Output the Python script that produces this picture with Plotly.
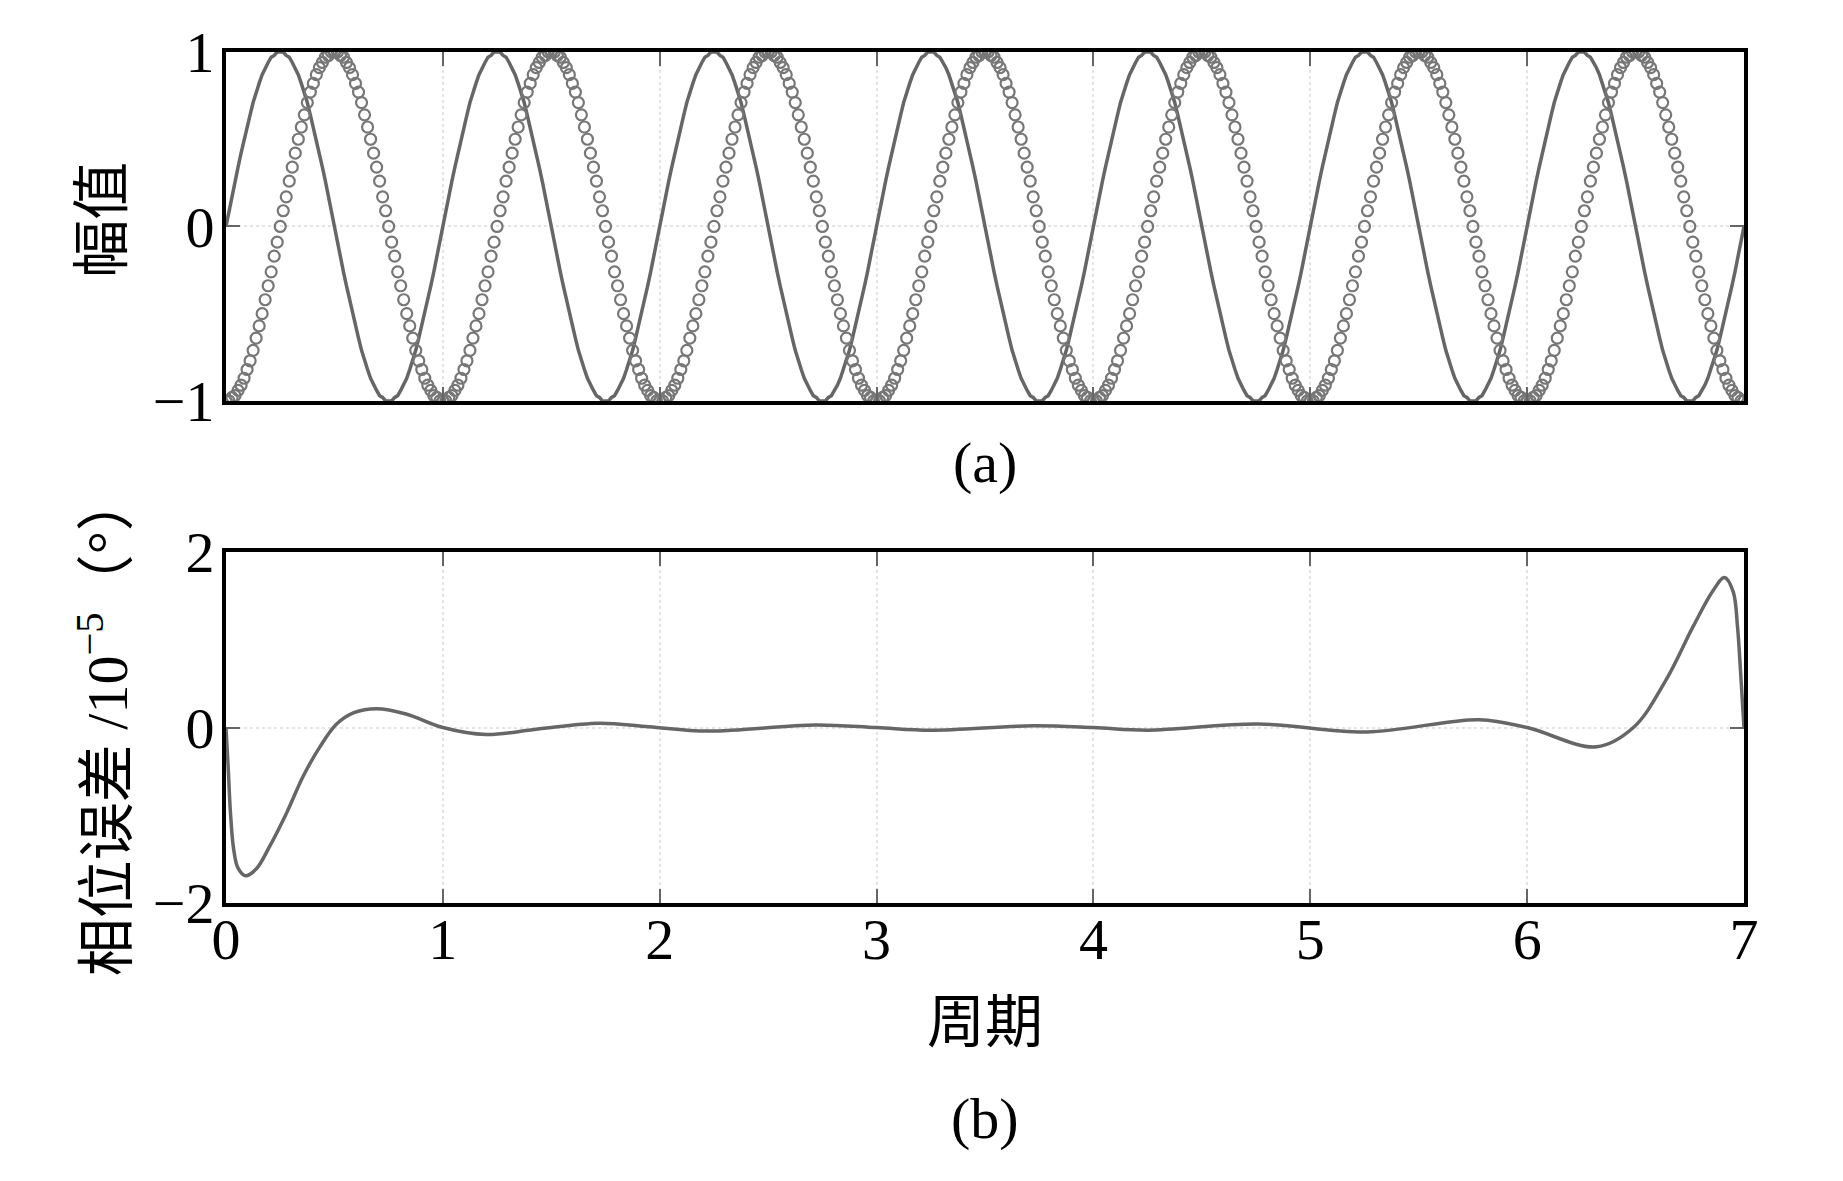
import numpy as np
import plotly.graph_objects as go
from plotly.subplots import make_subplots

# one period of the circle-marker signal (72 samples per period)
circle_period = [-1.00, -1.00, -0.98, -0.97, -0.94, -0.91, -0.87, -0.82, -0.77, -0.71, -0.64, -0.57,
                 -0.50, -0.42, -0.34, -0.26, -0.17, -0.09, 0.00, 0.09, 0.17, 0.26, 0.34, 0.42,
                 0.50, 0.57, 0.64, 0.71, 0.77, 0.82, 0.87, 0.91, 0.94, 0.97, 0.98, 1.00,
                 1.00, 1.00, 0.98, 0.97, 0.94, 0.91, 0.87, 0.82, 0.77, 0.71, 0.64, 0.57,
                 0.50, 0.42, 0.34, 0.26, 0.17, 0.09, 0.00, -0.09, -0.17, -0.26, -0.34, -0.42,
                 -0.50, -0.57, -0.64, -0.71, -0.77, -0.82, -0.87, -0.91, -0.94, -0.97, -0.98, -1.00]
n_periods = 7
samples_per_period = 72
# the solid curve leads the circles by a quarter period
quarter_shift = 18

# phase error, panel (b)
err_t = [0.0, 0.01, 0.02, 0.035, 0.055, 0.09, 0.14, 0.2, 0.28, 0.357, 0.433, 0.51, 0.59, 0.695,
         0.83, 1.0, 1.2, 1.43, 1.72, 1.95, 2.22, 2.72, 3.0, 3.25, 3.72, 4.0, 4.25, 4.76, 5.26,
         5.78, 6.0, 6.32, 6.49, 6.64, 6.765, 6.857, 6.91, 6.95, 6.97, 6.985, 7.0]
err_v = [0.0, -0.45, -0.95, -1.38, -1.6, -1.69, -1.61, -1.36, -0.97, -0.55, -0.22, 0.04, 0.17, 0.215,
         0.155, 0.0, -0.08, -0.02, 0.05, 0.01, -0.04, 0.03, 0.0, -0.03, 0.02, 0.0, -0.03, 0.04, -0.05,
         0.09, 0.0, -0.22, 0.0, 0.54, 1.15, 1.56, 1.71, 1.55, 1.15, 0.6, 0.0]

x_ticks = [0, 1, 2, 3, 4, 5, 6, 7]
x_ticktext = ["0", "1", "2", "3", "4", "5", "6", "7"]
amp_ticks = [-1, 0, 1]
amp_ticktext = ["\u22121", "0", "1"]
err_ticks = [-2, 0, 2]
err_ticktext = ["\u22122", "0", "2"]

circ = np.append(np.tile(circle_period, n_periods), circle_period[0])
solid_period = np.roll(circle_period, -quarter_shift)
solid = np.append(np.tile(solid_period, n_periods), solid_period[0])
t = np.arange(len(circ)) / samples_per_period

FONT = "Liberation Serif, Times New Roman, Noto Sans CJK SC, serif"
FS = 58

fig = make_subplots(rows=2, cols=1)
fig.add_trace(go.Scatter(x=t, y=solid, mode="lines",
                         line=dict(color="#666666", width=3.5)), row=1, col=1)
fig.add_trace(go.Scatter(x=t, y=circ, mode="markers",
                         marker=dict(symbol="circle-open", size=11, color="#777777",
                                     line=dict(width=2.2, color="#777777"))), row=1, col=1)
fig.add_trace(go.Scatter(x=err_t, y=err_v, mode="lines", line_shape="spline",
                         line=dict(color="#666666", width=3.5)), row=2, col=1)

axis_common = dict(showline=True, linecolor="black", linewidth=4, mirror="ticks",
                   ticks="inside", ticklen=14, tickwidth=2, tickcolor="#666666",
                   showgrid=True, gridcolor="#e4e4e4", gridwidth=1.5, griddash="dot",
                   zeroline=False, tickfont=dict(family=FONT, size=FS, color="black"))

fig.update_xaxes(axis_common, range=[0, 7], tickvals=x_ticks, ticktext=x_ticktext)
fig.update_xaxes(showticklabels=False, domain=[0, 1], row=1, col=1)
fig.update_xaxes(domain=[0, 1], ticklabelstandoff=-18, row=2, col=1)
fig.update_yaxes(axis_common)
fig.update_yaxes(range=[-1, 1], tickvals=amp_ticks, ticktext=amp_ticktext,
                 domain=[0.590, 1.0], ticklabelstandoff=-4, row=1, col=1)
fig.update_yaxes(range=[-2, 2], tickvals=err_ticks, ticktext=err_ticktext,
                 domain=[0.0, 0.4123], ticklabelstandoff=-4, row=2, col=1)

txt = dict(family=FONT, size=FS, color="black")
ann = dict(xref="paper", yref="paper", showarrow=False, font=txt,
           xanchor="center", yanchor="middle")
fig.add_annotation(text="幅值", x=-0.081, y=0.803, textangle=-90, **ann)
fig.add_annotation(text="相位误差 /10<sup>\u22125</sup>（°）", x=-0.081, y=0.209,
                   textangle=-90, **ann)
fig.add_annotation(text="(a)", x=0.5, y=0.5175, **ann)
fig.add_annotation(text="周期", x=0.5, y=-0.140, **ann)
fig.add_annotation(text="(b)", x=0.5, y=-0.253, **ann)

fig.update_layout(width=1835, height=1173, showlegend=False,
                  paper_bgcolor="white", plot_bgcolor="white",
                  margin=dict(l=218, r=99, t=39, b=278))

fig.write_html("out.html")
